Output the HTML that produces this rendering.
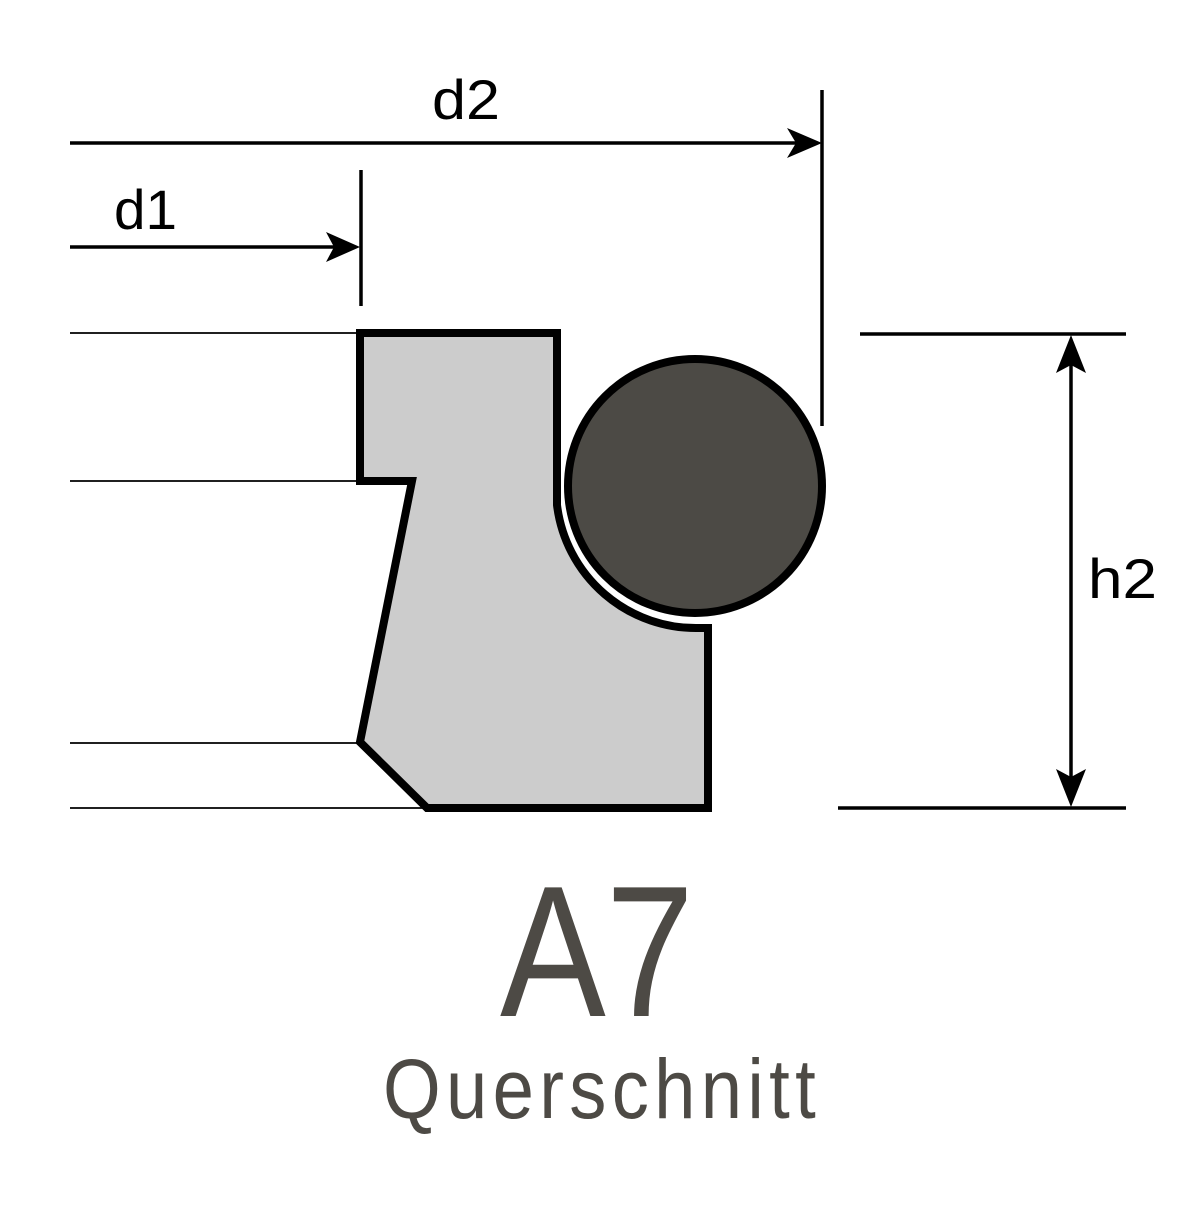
<!DOCTYPE html>
<html><head><meta charset="utf-8"><style>html,body{margin:0;padding:0;background:#fff}</style></head>
<body>
<svg width="1200" height="1200" viewBox="0 0 1200 1200" xmlns="http://www.w3.org/2000/svg">
<rect width="1200" height="1200" fill="#fff"/>
<g stroke="#000" fill="none">
  <line x1="70" y1="143" x2="810" y2="143" stroke-width="3.5"/>
  <line x1="822" y1="90" x2="822" y2="426" stroke-width="3.5"/>
  <line x1="70" y1="247" x2="345" y2="247" stroke-width="3.5"/>
  <line x1="361" y1="170" x2="361" y2="306" stroke-width="3.5"/>
  <line x1="70" y1="333" x2="360" y2="333" stroke-width="1.8"/>
  <line x1="70" y1="481" x2="360" y2="481" stroke-width="1.8"/>
  <line x1="70" y1="743" x2="360" y2="743" stroke-width="1.8"/>
  <line x1="70" y1="808" x2="427" y2="808" stroke-width="1.8"/>
  <line x1="860" y1="334" x2="1126" y2="334" stroke-width="3.5"/>
  <line x1="838" y1="808" x2="1126" y2="808" stroke-width="3.5"/>
  <line x1="1071" y1="350" x2="1071" y2="792" stroke-width="3.5"/>
</g>
<g fill="#000">
  <polygon points="822,143 787,128 796,143 787,158"/>
  <polygon points="360,247 326,232 334,247 326,262"/>
  <polygon points="1071,335 1056,373 1071,365 1086,373"/>
  <polygon points="1071,807 1056,769 1071,777 1086,769"/>
</g>
<path d="M360,333 L557,333 L557,505 A140,140 0 0 0 700,628 L708,628 L708,808 L427,808 L360,742 L412,481 L360,481 Z" fill="#cccccc" stroke="#000" stroke-width="8" stroke-linejoin="miter"/>
<circle cx="695" cy="486" r="126" fill="#fff"/>
<circle cx="695" cy="486" r="127" fill="#4c4a45" stroke="#000" stroke-width="8"/>
<g font-family="Liberation Sans, sans-serif" fill="#000" font-size="56">
  <text x="432" y="119" textLength="68" lengthAdjust="spacingAndGlyphs">d2</text>
  <text x="114" y="229" textLength="63" lengthAdjust="spacingAndGlyphs">d1</text>
  <text x="1088" y="598" textLength="69" lengthAdjust="spacingAndGlyphs">h2</text>
</g>
<g font-family="Liberation Sans, sans-serif" fill="#4d4a45">
  <text x="500" y="1016" font-size="187" textLength="194" lengthAdjust="spacingAndGlyphs">A7</text>
  <text x="383" y="1118" font-size="84" textLength="438" lengthAdjust="spacingAndGlyphs" letter-spacing="6">Querschnitt</text>
</g>
</svg>
</body></html>
